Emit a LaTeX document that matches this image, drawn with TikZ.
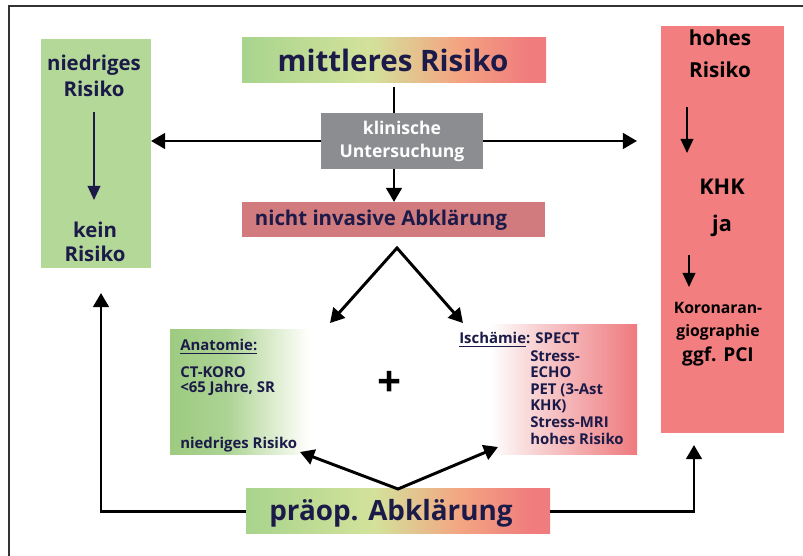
\documentclass[tikz,border=0pt]{standalone}
\usepackage{fontspec}
\setmainfont{Open Sans}
\usetikzlibrary{arrows.meta,fit}

\definecolor{navy}{HTML}{1B1A48}
\definecolor{lowgreen}{HTML}{B3D898}
\definecolor{highred}{HTML}{F27E80}
\definecolor{klingray}{HTML}{8B8D90}
\definecolor{nirose}{HTML}{D27B7E}
\definecolor{rgreen}{HTML}{A8D48D}
\definecolor{rlime}{HTML}{D3E29B}
\definecolor{rsalmon}{HTML}{F3A682}
\definecolor{rred}{HTML}{F07C7D}
\definecolor{agreen}{HTML}{9DCB80}
\definecolor{alight}{HTML}{E3F0D6}
\definecolor{ipink}{HTML}{F8D2D3}
\definecolor{ired}{HTML}{EE7A7E}

\pgfdeclarehorizontalshading{riskbar}{100bp}{color(0bp)=(rgreen); color(25bp)=(rgreen); color(46bp)=(rlime); color(60bp)=(rsalmon); color(72bp)=(rred); color(100bp)=(rred)}
\pgfdeclarehorizontalshading{anashade}{100bp}{color(0bp)=(agreen); color(25bp)=(agreen); color(44bp)=(agreen!85!white); color(62bp)=(alight); color(72bp)=(white); color(100bp)=(white)}
\pgfdeclarehorizontalshading{ischshade}{100bp}{color(0bp)=(white); color(25bp)=(white); color(36bp)=(white); color(48bp)=(ipink); color(75bp)=(ired); color(100bp)=(ired)}

\begin{document}
\begin{tikzpicture}[x=0.025cm, y=-0.025cm,
  box/.style={inner sep=0pt, outer sep=0pt},
  txt/.style={text=navy, align=center, inner sep=0pt},
  bigtxt/.style={txt, font=\fontsize{21}{24}\selectfont\bfseries},
  midtxt/.style={txt, font=\fontsize{14.5}{18.5}\selectfont\bfseries},
  smalltxt/.style={txt, align=left, font=\fontsize{10.6}{11.8}\selectfont\bfseries},
  hightxt/.style={txt, text=black, font=\fontsize{14.7}{22.7}\selectfont\bfseries},
  arr/.style={line width=2.1pt, -{Triangle[length=10pt,width=11pt]}},
  twoarr/.style={line width=2.1pt, {Triangle[length=10pt,width=11pt]}-{Triangle[length=10pt,width=11pt]}},
  slimarr/.style={line width=1.3pt, -{Triangle[length=10pt,width=9pt]}}]

\useasboundingbox (0,0) rectangle (803,556);
\draw[line width=0.9pt, black!80] (9,556) -- (9,6) -- (803,6);

% boxes
\node[box, fill=lowgreen, fit={(41,39) (151,268)}] (low) {};
\node[box, fill=highred, fit={(661,26) (784,433)}] (high) {};
\node[box, shading=riskbar, fit={(242,38) (546,83)}] (mid) {};
\node[box, fill=klingray, fit={(321,113) (483,169)}] (klin) {};
\node[box, fill=nirose, fit={(242,202) (545,237)}] (nicht) {};
\node[box, shading=anashade, fit={(170,330) (318,455)}] (ana) {};
\node[box, shading=ischshade, fit={(448,325) (637,455)}] (isch) {};
\node[box, shading=riskbar, fit={(246,489) (550,534)}] (preop) {};

% texts
\node[bigtxt] (midtext) at (393,60) {mittleres Risiko};
\node[txt, text=white, font=\fontsize{12.5}{16.4}\selectfont\bfseries] (klintext) at (402,141) {klinische\\Untersuchung};
\node[midtxt] (nichttext) at (381,220) {nicht invasive Abklärung};
\node[bigtxt, font=\fontsize{19.8}{24}\selectfont\bfseries] (preoptext) at (391,513) {präop. Abklärung};

\node[midtxt] (lowtop) at (94,76) {niedriges\\Risiko};
\node[midtxt, font=\fontsize{14.5}{16.8}\selectfont\bfseries] (lowbot) at (95,242) {kein\\Risiko};

\node[hightxt] (hightop) at (720,54) {hohes\\Risiko};
\node[hightxt, font=\fontsize{15.4}{16}\selectfont\bfseries] (khk) at (722,187) {KHK};
\node[hightxt, font=\fontsize{15.4}{16}\selectfont\bfseries] (ja) at (722,226) {ja};
\node[hightxt, font=\fontsize{11.2}{16.4}\selectfont\bfseries] (koro) at (718,321) {Koronaran-\\giographie};
\node[hightxt, font=\fontsize{13.6}{16}\selectfont\bfseries] (pci) at (718,356) {ggf. PCI};

\node[smalltxt, anchor=base west] (anatitle) at (180,351) {\underline{Anatomie:}};
\node[smalltxt, anchor=north west, font=\fontsize{10.6}{10.7}\selectfont\bfseries] (anatext) at (180,366) {CT-KORO\\<65 Jahre, SR};
\node[smalltxt, anchor=base west] (analow) at (180,449) {niedriges Risiko};
\node[txt, text=black, font=\fontsize{30}{30}\selectfont\bfseries] (plus) at (390,384) {+};

\node[smalltxt, anchor=base west] (ischtitle) at (459,344) {\underline{Ischämie}: SPECT};
\node[smalltxt, anchor=north west] (ischtext) at (530,350)
  {Stress-\\ECHO\\PET (3-Ast\\KHK)\\Stress-MRI\\hohes Risiko};

% connectors
\coordinate (highin) at (637,138);
\coordinate (split) at (397,248);
\coordinate (anain) at (330,323);
\coordinate (ischin) at (463,323);
\coordinate (anabot) at (300,452);
\coordinate (ischbot) at (498,447);
\coordinate (lowin) at (101,293);
\coordinate (highbot) at (694,445);

\draw[line width=2.1pt, shorten <=3pt] (mid.south) -- (klin.north -| mid.south);
\draw[arr] (klin.south -| mid.south) -- (nicht.north -| mid.south);
\draw[arr] (klin.west) -- (low.east |- klin.west);
\draw[arr] (klin.east) -- (highin |- klin.east);
\draw[twoarr] (anain) -- (split) -- (ischin);
\draw[twoarr] (anabot) -- (preop.north) -- (ischbot);
\draw[arr] (preop.west) -| (lowin);
\draw[arr] (preop.east) -| (highbot);

% arrows inside the boxes
\coordinate (lowa) at (94,112);
\coordinate (lowb) at (94,200);
\draw[slimarr, navy, line width=1.1pt] (lowa) -- (lowb);
\coordinate (higha) at (687,107);
\coordinate (highb) at (687,153);
\coordinate (highc) at (689,255);
\coordinate (highd) at (689,287);
\draw[slimarr] (higha) -- (highb);
\draw[slimarr] (highc) -- (highd);
\end{tikzpicture}
\end{document}
